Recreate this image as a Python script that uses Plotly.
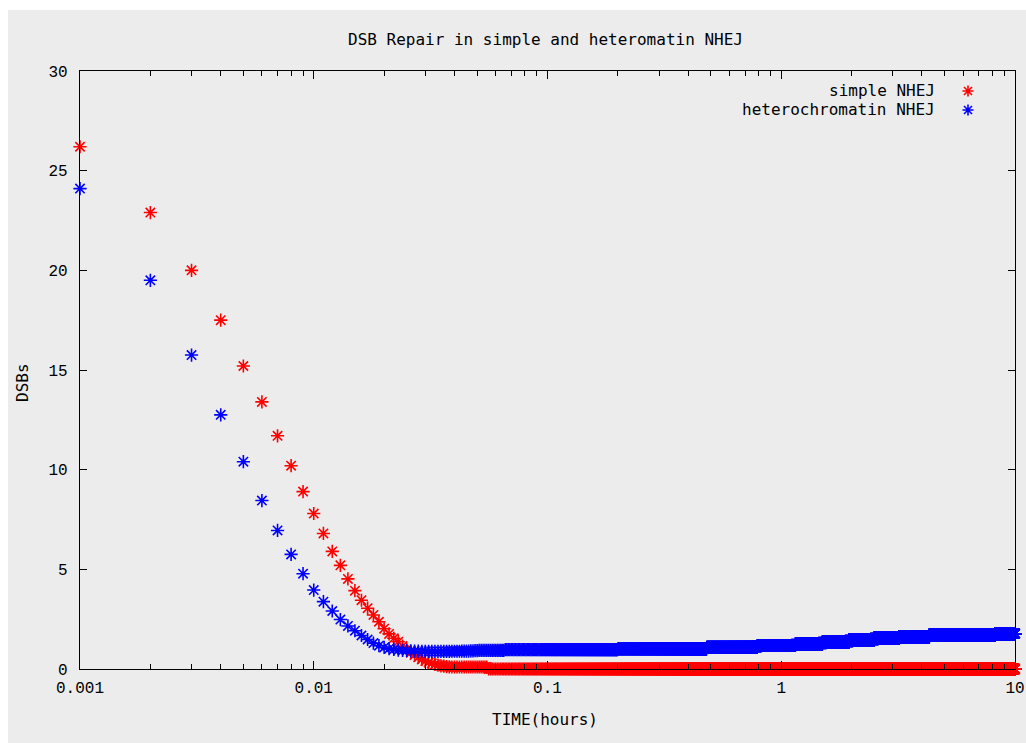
import numpy as np
import plotly.graph_objects as go

# ---------------- data ----------------
# Individually visible samples (time grid step 0.001 h)
TIME_EARLY = [0.001, 0.002, 0.003, 0.004, 0.005, 0.006, 0.007, 0.008, 0.009, 0.010,
              0.011, 0.012, 0.013, 0.014, 0.015, 0.016, 0.017, 0.018, 0.019, 0.020,
              0.021, 0.022, 0.023, 0.024, 0.025, 0.026, 0.027, 0.028, 0.029, 0.030,
              0.031, 0.032, 0.033, 0.034, 0.035, 0.036, 0.037, 0.038, 0.039, 0.040,
              0.041, 0.042, 0.043, 0.044, 0.045, 0.046, 0.047, 0.048, 0.049, 0.050]

SIMPLE_EARLY = [26.2, 22.9, 20.0, 17.5, 15.2, 13.4, 11.7, 10.2, 8.9, 7.8,
                6.8, 5.9, 5.2, 4.52, 3.93, 3.45, 3.05, 2.71, 2.37, 2.02,
                1.76, 1.54, 1.37, 1.15, 0.97, 0.82, 0.70, 0.59, 0.48, 0.40,
                0.33, 0.28, 0.23, 0.19, 0.16, 0.14, 0.12, 0.11, 0.10, 0.10,
                0.10, 0.10, 0.10, 0.10, 0.10, 0.10, 0.10, 0.10, 0.10, 0.10]

HETERO_EARLY = [24.1, 19.5, 15.75, 12.75, 10.4, 8.45, 6.95, 5.75, 4.78, 3.96,
                3.38, 2.91, 2.48, 2.16, 1.92, 1.68, 1.48, 1.30, 1.17, 1.08,
                1.02, 0.98, 0.95, 0.93, 0.92, 0.91, 0.90, 0.90, 0.89, 0.89,
                0.88, 0.88, 0.88, 0.88, 0.88, 0.88, 0.88, 0.88, 0.89, 0.89,
                0.89, 0.89, 0.90, 0.90, 0.90, 0.90, 0.91, 0.91, 0.92, 0.92]

# Dense band (0.051 h .. 10 h on the same 0.001 h grid): the reference shows
# flat plateaus (pixel-quantised levels); start time of each plateau and its level
TIME_GRID_STEP = 0.001
TIME_BAND_FIRST = 0.051
TIME_BAND_LAST = 10.0

HETERO_PLATEAU_START = [0.051, 0.066, 0.20, 0.48, 0.79, 1.15, 1.50, 1.95, 2.50, 3.20, 4.30, 8.20]
HETERO_PLATEAU_LEVEL = [0.93, 0.97, 1.01, 1.09, 1.18, 1.26, 1.35, 1.45, 1.55, 1.62, 1.69, 1.77]

SIMPLE_PLATEAU_START = [0.051, 0.056]
SIMPLE_PLATEAU_LEVEL = [0.10, 0.00]

SERIES_NAMES = ["simple NHEJ", "heterochromatin NHEJ"]
X_TICK_VALUES = [0.001, 0.01, 0.1, 1, 10]
X_TICK_LABELS = ["0.001", "0.01", "0.1", "1", "10"]
Y_TICK_VALUES = [0, 5, 10, 15, 20, 25, 30]

# ---------------- assemble series ----------------
n0 = int(round(TIME_BAND_FIRST / TIME_GRID_STEP))
n1 = int(round(TIME_BAND_LAST / TIME_GRID_STEP))
time_band = np.round(np.arange(n0, n1 + 1) * TIME_GRID_STEP, 3)


def plateau_values(times, starts, levels):
    idx = np.searchsorted(np.array(starts), times, side="right") - 1
    return np.array(levels)[idx]


TIME = np.concatenate([TIME_EARLY, time_band])
SIMPLE = np.concatenate([SIMPLE_EARLY, plateau_values(time_band, SIMPLE_PLATEAU_START, SIMPLE_PLATEAU_LEVEL)])
HETERO = np.concatenate([HETERO_EARLY, plateau_values(time_band, HETERO_PLATEAU_START, HETERO_PLATEAU_LEVEL)])

# ---------------- styling ----------------
BG = "#ececec"
RED = "#ff0000"
BLUE = "#0000ff"
MONO = "DejaVu Sans Mono, monospace"
TICKFONT = "Liberation Mono, Courier New, monospace"

fig = go.Figure()
for name, ys, col in [(SERIES_NAMES[0], SIMPLE, RED), (SERIES_NAMES[1], HETERO, BLUE)]:
    fig.add_trace(go.Scatter(
        x=TIME, y=ys, mode="markers", name=name, cliponaxis=False,
        marker=dict(symbol="asterisk-open", size=11, color=col,
                    line=dict(color=col, width=1.6)),
        showlegend=False, hoverinfo="skip",
    ))

L, R, T, B = 80, 11, 71, 74
W, H = 1026, 743
pw, ph = W - L - R, H - T - B


def px_x(p):
    return (p - L) / pw


def px_y(p):
    return (H - B - p) / ph


fig.update_layout(
    template="none",
    width=W, height=H,
    margin=dict(l=L, r=R, t=T, b=B, pad=0, autoexpand=False),
    paper_bgcolor=BG, plot_bgcolor=BG,
    xaxis=dict(
        type="log", range=[-3, 1], automargin=False,
        tickvals=X_TICK_VALUES, ticktext=X_TICK_LABELS,
        ticks="inside", ticklen=8, tickwidth=1, tickcolor="#000",
        minor=dict(ticks="inside", ticklen=5, tickwidth=1, tickcolor="#000", dtick="D1",
                   showgrid=False),
        showline=True, linecolor="#000", linewidth=1.2, mirror="allticks",
        showgrid=False, zeroline=False, layer="above traces",
        tickfont=dict(family=TICKFONT, size=16, color="#000"),
        ticklabelstandoff=4,
    ),
    yaxis=dict(
        range=[0, 30], tickvals=Y_TICK_VALUES, automargin=False,
        ticks="inside", ticklen=7, tickwidth=1, tickcolor="#000",
        showline=True, linecolor="#000", linewidth=1.2, mirror="allticks",
        showgrid=False, zeroline=False, layer="above traces",
        tickfont=dict(family=TICKFONT, size=16, color="#000"),
        ticklabelstandoff=8,
    ),
    showlegend=False,
)

annotations = [
    dict(text="DSB Repair in simple and heteromatin NHEJ", x=px_x(545), y=px_y(40),
         xanchor="center", yanchor="middle"),
    dict(text="TIME(hours)", x=px_x(545), y=px_y(719), xanchor="center", yanchor="middle"),
    dict(text="DSBs", x=px_x(22), y=px_y(383), xanchor="center", yanchor="middle",
         textangle=-90),
    dict(text=SERIES_NAMES[0], x=px_x(937), y=px_y(91), xanchor="right", yanchor="middle"),
    dict(text=SERIES_NAMES[1], x=px_x(937), y=px_y(110), xanchor="right", yanchor="middle"),
]
for a in annotations:
    a.update(xref="paper", yref="paper", showarrow=False,
             font=dict(family=MONO, size=16, color="#000"))
fig.update_layout(annotations=annotations)

# white strips around the gray canvas (top and left edges of the reference)
shapes = [
    dict(type="rect", xref="paper", yref="paper", x0=px_x(-5), x1=px_x(W + 5),
         y0=px_y(10), y1=px_y(-5), fillcolor="#ffffff", line=dict(width=0), layer="below"),
    dict(type="rect", xref="paper", yref="paper", x0=px_x(-5), x1=px_x(8),
         y0=px_y(H + 5), y1=px_y(-5), fillcolor="#ffffff", line=dict(width=0), layer="below"),
]
# legend keys (asterisk glyphs) drawn to the right of the labels, as in gnuplot
star = "M-5.5,0L5.5,0M0,-5.5L0,5.5M-4,-4L4,4M-4,4L4,-4"
for ypx, col in [(91, RED), (110, BLUE)]:
    shapes.append(dict(type="path", xref="paper", yref="paper",
                       xsizemode="pixel", ysizemode="pixel",
                       xanchor=px_x(968), yanchor=px_y(ypx), path=star,
                       line=dict(color=col, width=1.6)))
fig.update_layout(shapes=shapes)

fig.write_html("out.html")
